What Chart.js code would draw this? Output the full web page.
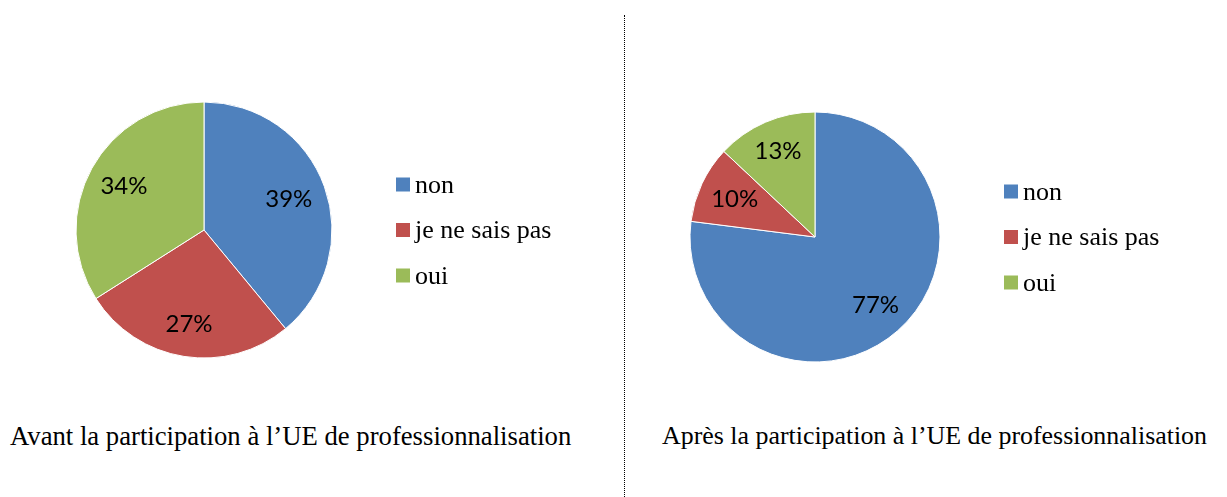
<!DOCTYPE html>
<html lang="fr">
<head>
<meta charset="utf-8">
<title>UE de professionnalisation</title>
<script src="https://cdn.jsdelivr.net/npm/chart.js@4/dist/chart.umd.min.js"></script>
<style>
    html, body { margin: 0; padding: 0; background: #fff; }
    body { width: 1227px; height: 497px; position: relative; overflow: hidden; }
    .pane { position: absolute; top: 0; height: 400px; }
    #paneAvant { left: 0; width: 620px; }
    #paneApres { left: 628px; width: 599px; }
    .caption {
        position: absolute; top: 423px; white-space: nowrap;
        font-family: "Liberation Serif", "Times New Roman", serif;
        font-size: 26.7px; line-height: 1; color: #000;
    }
    #captionAvant { left: 10px; }
    #captionApres { left: 662px; font-size: 25.9px; }
    #divider {
        position: absolute; left: 624px; top: 15px; height: 482px;
        border-left: 1px dotted #000;
    }
</style>
</head>
<body>

<div class="pane" id="paneAvant"><canvas id="chartAvant"></canvas></div>
<div class="pane" id="paneApres"><canvas id="chartApres"></canvas></div>
<div id="divider"></div>
<div class="caption" id="captionAvant">Avant la participation à l’UE de professionnalisation</div>
<div class="caption" id="captionApres">Après la participation à l’UE de professionnalisation</div>

<script>
/* ------------------------------------------------------------
   Data
   ------------------------------------------------------------ */
const categories = ["non", "je ne sais pas", "oui"];
const valuesAvant = [39, 27, 34];
const valuesApres = [77, 10, 13];
const sliceColors = ["#4F81BD", "#C0504D", "#9BBB59"];

/* ------------------------------------------------------------
   Plugin: percentage inside each slice
   ------------------------------------------------------------ */
const sliceLabels = {
    id: "sliceLabels",
    afterDatasetsDraw(chart) {
        const ctx = chart.ctx;
        const ds = chart.data.datasets[0];
        ctx.save();
        ctx.font = "24px Lato, 'Open Sans', sans-serif";
        ctx.fillStyle = "#000";
        ctx.textAlign = "center";
        ctx.textBaseline = "middle";
        chart.getDatasetMeta(0).data.forEach((arc, i) => {
            const p = arc.getProps(["x", "y", "startAngle", "endAngle", "outerRadius"], true);
            const mid = (p.startAngle + p.endAngle) / 2;
            // labels near the vertical sit a little further out
            const d = p.outerRadius * (0.68 + 0.07 * Math.abs(Math.sin(mid)));
            ctx.fillText(ds.data[i] + "%", p.x + Math.cos(mid) * d, p.y + Math.sin(mid) * d);
        });
        ctx.restore();
    }
};

/* ------------------------------------------------------------
   Plugin: square legend to the right of the pie
   ------------------------------------------------------------ */
const sideLegend = {
    id: "sideLegend",
    afterDraw(chart) {
        const ctx = chart.ctx;
        const arc = chart.getDatasetMeta(0).data[0];
        const x0 = arc.x + arc.outerRadius + 64;
        const step = 45.5;
        ctx.save();
        ctx.font = "26px 'Liberation Serif', 'Times New Roman', serif";
        ctx.textBaseline = "alphabetic";
        chart.data.labels.forEach((label, i) => {
            const y = arc.y + (i - 1) * step;
            ctx.fillStyle = chart.data.datasets[0].backgroundColor[i];
            ctx.fillRect(x0, y - 7, 14, 14);
            ctx.fillStyle = "#000";
            ctx.fillText(label, x0 + 19, y + 8);
        });
        ctx.restore();
    }
};

/* ------------------------------------------------------------
   Pie chart
   ------------------------------------------------------------ */
function renderPie(id, values, radius, padding) {
    const ctx = document.getElementById(id);
    if (!ctx) return;

    new Chart(ctx, {
        type: "pie",
        data: {
            labels: categories,
            datasets: [{
                data: values,
                backgroundColor: sliceColors,
                borderColor: "#fff",
                borderWidth: 1,
                radius: radius
            }]
        },
        options: {
            responsive: true,
            maintainAspectRatio: false,
            animation: false,
            layout: { padding: padding },
            plugins: {
                legend: { display: false },
                tooltip: { enabled: false }
            }
        },
        plugins: [sliceLabels, sideLegend]
    });
}

document.addEventListener("DOMContentLoaded", () => {
    renderPie("chartAvant", valuesAvant, 128, { left: 75, right: 287, top: 101, bottom: 41 });
    renderPie("chartApres", valuesApres, 125, { left: 61, right: 286, top: 111, bottom: 37 });
});
</script>
</body>
</html>
